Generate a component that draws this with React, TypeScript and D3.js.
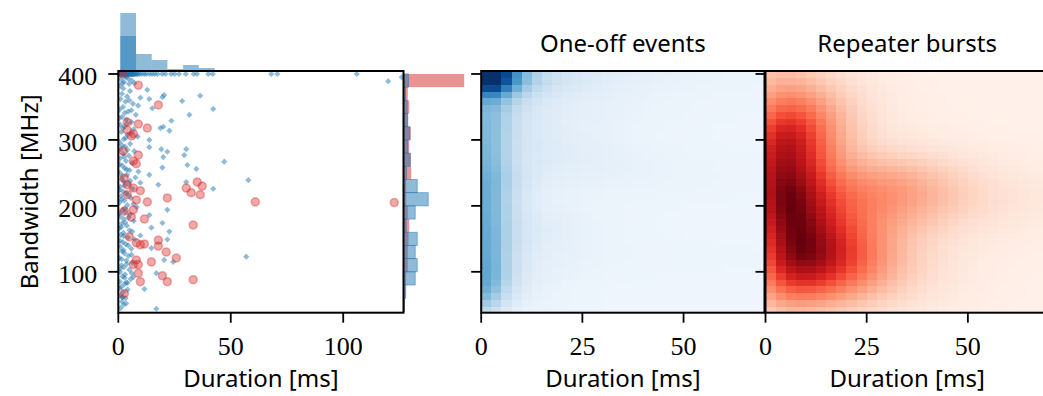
import { useMemo } from 'react';
import * as d3 from 'd3';

const W = 1043;
const H = 396;

// one-off events at the full 400 MHz band: durations in ms
const fullBandDur = [
  0.5, 0.7, 0.9, 1.0, 1.2, 1.3, 1.5, 1.6, 1.8, 2.0, 2.2, 2.3, 2.5, 2.6, 2.7, 2.9, 3.0, 3.2, 3.3, 3.5,
  3.6, 3.8, 3.9, 4.0, 4.2, 4.3, 4.4, 4.6, 4.7, 4.9, 5.1, 5.3, 5.5, 5.6, 5.8, 6.0, 6.2, 6.4, 6.6, 6.8,
  7.0, 7.3, 7.5, 8.0, 8.4, 8.8, 9.5, 10.4, 11.5, 12.4, 13.8, 15.0, 16.2, 17.5, 19.5, 21.0,
  23.5, 25.0, 27.0, 30.0, 33.5, 35.0, 40.0, 42.0, 68.0, 70.7, 106.0,
];

// one-off events: [duration ms, bandwidth MHz]
const oneOffNarrow: [number, number][] = [
  [1.2, 392], [2.5, 388], [3.5, 395], [4.8, 385], [6.0, 390], [0.8, 382], [7.2, 386], [2.2, 378],
  [5.2, 374], [1.6, 370], [3.9, 366], [120, 389], [126, 395], [2.9, 397], [4.4, 393], [1.9, 386],
  [1.0, 362], [3.2, 358], [6.5, 355], [2.1, 350], [0.6, 346], [4.4, 343], [7.8, 338], [1.7, 335],
  [3.6, 331], [5.9, 327], [0.9, 323], [2.8, 320], [6.8, 316], [1.4, 312], [4.1, 308], [8.6, 305],
  [2.4, 301], [0.5, 297], [5.3, 294], [3.0, 290], [1.1, 286], [7.1, 283], [2.2, 279], [4.7, 276],
  [0.8, 272], [3.4, 268], [6.1, 265], [1.8, 261], [2.9, 257], [5.0, 254], [0.7, 250], [3.9, 247],
  [7.6, 243], [1.5, 240], [2.6, 236], [4.6, 233], [0.9, 229], [6.4, 226], [2.0, 222], [3.5, 219],
  [1.2, 215], [5.6, 212], [2.7, 208], [0.6, 205], [4.0, 201], [8.2, 198], [1.9, 194], [3.1, 191],
  [5.2, 187], [0.8, 184], [2.4, 180], [6.9, 177], [1.6, 173], [3.8, 170], [0.5, 166], [5.0, 163],
  [2.3, 159], [1.1, 156], [4.3, 152], [7.3, 149], [2.0, 145], [3.3, 142], [0.9, 138], [5.8, 135],
  [1.7, 131], [2.8, 128], [4.5, 124], [0.6, 121], [3.6, 117], [6.2, 114], [1.4, 110], [2.5, 107],
  [4.9, 103], [0.8, 100], [3.0, 96], [1.9, 93], [5.5, 89], [0.7, 85], [2.7, 81], [1.3, 77],
  [4.1, 73], [2.2, 69], [0.9, 64], [3.2, 60], [1.6, 55], [2.4, 50], [1.0, 45],
  [4.9, 360], [8.8, 352], [2.9, 341], [0.4, 333], [3.9, 325], [1.9, 318], [5.6, 310], [3.3, 303],
  [1.6, 292], [4.0, 285], [2.6, 274], [0.6, 263], [3.7, 255], [1.9, 245], [5.3, 238], [2.8, 231],
  [0.5, 224], [4.2, 217], [1.5, 210], [6.8, 203], [2.9, 196], [0.6, 189], [4.5, 182], [3.0, 175],
  [1.3, 168], [6.2, 161], [2.4, 154], [0.7, 147], [4.4, 140], [2.3, 133], [5.9, 126], [1.5, 119],
  [3.8, 112], [0.9, 105], [6.0, 98], [2.8, 91], [3.6, 84], [0.6, 75], [1.9, 62], [3.5, 52],
  [12.9, 376], [9.8, 364], [13.8, 362], [19.6, 365], [20.4, 368], [28.4, 359], [36.4, 367],
  [42.2, 347], [31.6, 338], [15.1, 348], [5.8, 345], [23.6, 329], [18.7, 318], [22.7, 314],
  [20.0, 320], [13.8, 300], [13.8, 289], [19.1, 286], [20.0, 274], [21.8, 282], [30.2, 286],
  [29.3, 277], [47.1, 267], [30.7, 262], [34.7, 256], [19.6, 258], [13.8, 247], [8.9, 252],
  [57.8, 239], [30.2, 236], [17.8, 232], [9.8, 235], [42.2, 226], [21.8, 194], [13.8, 186],
  [19.6, 174], [14.7, 167], [22.7, 161], [9.8, 155], [21.8, 149], [14.7, 136], [56.9, 123],
  [20.4, 118], [24.4, 115], [16.9, 98], [6.7, 92], [11.6, 74], [16.9, 44], [4.0, 83], [1.8, 61],
];

// repeater bursts: [duration ms, bandwidth MHz]
const repeaterPoints: [number, number][] = [
  [1.8, 400], [8.9, 383], [17.8, 353], [8.9, 324], [12.9, 318], [4.0, 327], [4.0, 315], [5.8, 306],
  [6.7, 309], [2.2, 283], [8.9, 277], [6.7, 268], [8.0, 264], [2.7, 242], [4.0, 232], [6.7, 227],
  [9.8, 223], [4.0, 217], [8.0, 209], [12.9, 206], [21.8, 212], [35.1, 236], [37.3, 230], [30.2, 227],
  [32.4, 220], [36.4, 217], [60.9, 206], [122.7, 205], [11.6, 180], [6.7, 194], [5.8, 183], [2.7, 192],
  [33.3, 171], [4.9, 153], [8.0, 144], [9.8, 141], [11.6, 142], [17.8, 148], [17.8, 139], [21.3, 130],
  [25.8, 121], [14.7, 115], [8.0, 118], [8.9, 111], [6.7, 111], [8.9, 98], [19.6, 94], [21.8, 85],
  [9.8, 85], [33.3, 88], [2.7, 67],
];

// marginal histogram of duration (bins from durBinStart, width durBinWidth)
const durBinStart = 0.9;
const durBinWidth = 6.98;
const durHistAll = [58, 17, 11, 2, 6, 3, 0, 0, 0, 0, 0, 0, 0, 0, 0, 0, 0, 0];
const durHistOneOff = [35, 0, 0, 0, 0, 0, 0, 0, 0, 0, 0, 0, 0, 0, 0, 0, 0, 0];

// marginal histogram of bandwidth, 20 MHz bins from 40 MHz upward
const bwBinStart = 40;
const bwBinWidth = 20;
const bwHistOneOff = [1, 2.3, 11.7, 13.7, 11.7, 13.7, 2.7, 11.7, 24.7, 13.7, 3, 6.7, 4.3, 6.3, 4.3, 3.7, 2, 5];
const bwHistRepeater = [1, 1.7, 2.7, 4.3, 4.3, 5, 5.7, 4.3, 2.7, 2.7, 7.7, 7.3, 5.7, 7.3, 4.3, 5.7, 4.3, 60.7];

const bwTicks = [100, 200, 300, 400];
const scatterDurTicks = [0, 50, 100];
const mapDurTicks = [0, 25, 50];
const panelTitles = ['One-off events', 'Repeater bursts'];

const BLUE = '#1f77b4';
const RED = '#d62728';
const SERIF = '"Liberation Serif", "DejaVu Serif", serif';
const SANS = '"Noto Sans", "DejaVu Sans", sans-serif';

// gaussian KDE with the duration axis taken in log(d + off)
const kde = (
  pts: [number, number][],
  off: number,
  su: number,
  sy: number,
  xs: number[],
  ys: number[]
) =>
  ys.map((cy) =>
    xs.map((cx) => {
      const cu = Math.log(cx + off);
      let s = 0;
      for (const [px, py] of pts) {
        const du = (Math.log(px + off) - cu) / su;
        const dy = (py - cy) / sy;
        s += Math.exp(-0.5 * (du * du + dy * dy));
      }
      return s / (cx + off);
    })
  );

export default function App() {
  const oneOffPoints = useMemo<[number, number][]>(
    () => [...fullBandDur.map((d) => [d, 400] as [number, number]), ...oneOffNarrow],
    []
  );

  const sx = d3.scaleLinear().domain([0, 126.8]).range([118.3, 403.5]);
  const y = d3.scaleLinear().domain([38, 404.5]).range([312.7, 71]);
  const mx = d3.scaleLinear().domain([0, 70]).range([481.2, 764.5]);
  const rx = d3.scaleLinear().domain([0, 70]).range([765.5, 1048.8]);
  const topH = d3.scaleLinear().domain([0, 58]).range([0, 58]);
  const sideW = d3.scaleLinear().domain([0, 60.7]).range([0, 60.7]);

  const xEdges = d3.range(0, 70.01, 2.5);
  const yEdges = d3.range(37).map((k) => 38 + (k * (404.5 - 38)) / 36);
  const xc = xEdges.slice(0, -1).map((v) => v + 1.25);
  const yc = yEdges.slice(0, -1).map((v, i) => (v + yEdges[i + 1]) / 2);

  const blueGrid = useMemo(() => kde(oneOffPoints, 8, 0.3, 20, xc, yc), [oneOffPoints]);
  const redGrid = useMemo(() => kde(repeaterPoints, 40, 0.16, 40, xc, yc), []);
  const blueMax = d3.max(blueGrid.flat())!;
  const redMax = d3.max(redGrid.flat())!;
  const blueColor = d3
    .scaleSequential(d3.interpolateBlues)
    .domain([-0.04 * blueMax, 0.85 * blueMax])
    .clamp(true);
  const redColor = d3.scaleSequential(d3.interpolateReds).domain([-0.03 * redMax, redMax]);

  const top = y.range()[1];
  const bottom = y.range()[0];
  const diamond = d3.symbol(d3.symbolSquare, 19)()!;

  const heat = (grid: number[][], xs: d3.ScaleLinear<number, number>, color: (v: number) => string, key: string) =>
    grid.map((row, j) =>
      row.map((v, i) => (
        <rect
          key={`${key}-${j}-${i}`}
          x={xs(xEdges[i])}
          y={y(yEdges[j + 1])}
          width={xs(xEdges[i + 1]) - xs(xEdges[i]) + 0.6}
          height={y(yEdges[j]) - y(yEdges[j + 1]) + 0.6}
          fill={color(v)}
        />
      ))
    );

  const yTicks = (x0: number, labels: boolean) =>
    bwTicks.map((t) => (
      <g key={`yt-${x0}-${t}`}>
        <line x1={x0 - 10} x2={x0} y1={y(t)} y2={y(t)} stroke="#000" strokeWidth={1.8} />
        {labels && (
          <text x={x0 - 21} y={y(t) + 11} textAnchor="end" fontFamily={SERIF} fontSize={26}>
            {t}
          </text>
        )}
      </g>
    ));

  const xTicks = (xs: d3.ScaleLinear<number, number>, ticks: number[]) =>
    ticks.map((t) => (
      <g key={`xt-${xs.range()[0]}-${t}`}>
        <line x1={xs(t)} x2={xs(t)} y1={bottom} y2={bottom + 10} stroke="#000" strokeWidth={1.8} />
        <text x={xs(t)} y={355} textAnchor="middle" fontFamily={SERIF} fontSize={26}>
          {t}
        </text>
      </g>
    ));

  return (
    <div style={{ position: 'fixed', left: 0, top: 0, width: W, height: H, background: '#fff' }}>
      <svg width={W} height={H} style={{ display: 'block' }}>
        {/* top marginal histogram */}
        {durHistAll.map((c, i) =>
          c > 0 ? (
            <rect
              key={`ha-${i}`}
              x={sx(durBinStart + i * durBinWidth)}
              y={top - topH(c)}
              width={sx(durBinStart + (i + 1) * durBinWidth) - sx(durBinStart + i * durBinWidth)}
              height={topH(c)}
              fill={BLUE}
              fillOpacity={0.5}
            />
          ) : null
        )}
        {durHistOneOff.map((c, i) =>
          c > 0 ? (
            <rect
              key={`hb-${i}`}
              x={sx(durBinStart + i * durBinWidth)}
              y={top - topH(c)}
              width={sx(durBinStart + (i + 1) * durBinWidth) - sx(durBinStart + i * durBinWidth)}
              height={topH(c)}
              fill={BLUE}
              fillOpacity={0.5}
            />
          ) : null
        )}

        {/* right marginal histogram */}
        {bwHistRepeater.map((c, i) => (
          <rect
            key={`hr-${i}`}
            x={sx.range()[1]}
            y={y(bwBinStart + (i + 1) * bwBinWidth)}
            width={sideW(c)}
            height={y(bwBinStart + i * bwBinWidth) - y(bwBinStart + (i + 1) * bwBinWidth)}
            fill={RED}
            fillOpacity={0.5}
          />
        ))}
        {bwHistOneOff.map((c, i) => (
          <rect
            key={`ho-${i}`}
            x={sx.range()[1]}
            y={y(bwBinStart + (i + 1) * bwBinWidth)}
            width={sideW(c)}
            height={y(bwBinStart + i * bwBinWidth) - y(bwBinStart + (i + 1) * bwBinWidth)}
            fill={BLUE}
            fillOpacity={0.5}
            stroke={BLUE}
            strokeOpacity={0.6}
            strokeWidth={0.8}
          />
        ))}

        {/* scatter */}
        <defs>
          <clipPath id="scatter-clip">
            <rect x={sx.range()[0]} y={top - 6} width={sx.range()[1] - sx.range()[0] + 4} height={bottom - top + 6} />
          </clipPath>
        </defs>
        <g clipPath="url(#scatter-clip)">
          {oneOffPoints.map(([d, b], i) => (
            <path
              key={`bp-${i}`}
              d={diamond}
              transform={`translate(${sx(d)},${y(b)}) rotate(45)`}
              fill={BLUE}
              fillOpacity={0.5}
            />
          ))}
          {repeaterPoints.map(([d, b], i) => (
            <circle
              key={`rp-${i}`}
              cx={sx(d)}
              cy={y(b)}
              r={4}
              fill={RED}
              fillOpacity={0.4}
              stroke={RED}
              strokeOpacity={0.35}
              strokeWidth={1.6}
            />
          ))}
        </g>

        {/* heat maps */}
        <g shapeRendering="crispEdges">
          {heat(blueGrid, mx, blueColor, 'b')}
          {heat(redGrid, rx, redColor, 'r')}
        </g>

        {/* frames */}
        <rect x={sx.range()[0]} y={top} width={sx.range()[1] - sx.range()[0]} height={bottom - top} fill="none" stroke="#000" strokeWidth={2} />
        <rect x={mx.range()[0]} y={top} width={mx.range()[1] - mx.range()[0]} height={bottom - top} fill="none" stroke="#000" strokeWidth={2} />
        <rect x={rx.range()[0]} y={top} width={rx.range()[1] - rx.range()[0]} height={bottom - top} fill="none" stroke="#000" strokeWidth={2} />

        {yTicks(sx.range()[0], true)}
        {yTicks(mx.range()[0], false)}
        {yTicks(rx.range()[0], false)}
        {xTicks(sx, scatterDurTicks)}
        {xTicks(mx, mapDurTicks)}
        {xTicks(rx, mapDurTicks)}

        {/* labels */}
        {[sx, mx, rx].map((s, i) => (
          <text
            key={`xl-${i}`}
            x={(s.range()[0] + s.range()[1]) / 2}
            y={387}
            textAnchor="middle"
            fontFamily={SANS}
            fontSize={24}
          >
            Duration [ms]
          </text>
        ))}
        <text
          transform={`translate(38,${(top + bottom) / 2}) rotate(-90)`}
          textAnchor="middle"
          fontFamily={SANS}
          fontSize={24}
        >
          Bandwidth [MHz]
        </text>
        {[mx, rx].map((s, i) => (
          <text
            key={`tt-${i}`}
            x={(s.range()[0] + s.range()[1]) / 2}
            y={52}
            textAnchor="middle"
            fontFamily={SANS}
            fontSize={24}
          >
            {panelTitles[i]}
          </text>
        ))}
      </svg>
    </div>
  );
}
